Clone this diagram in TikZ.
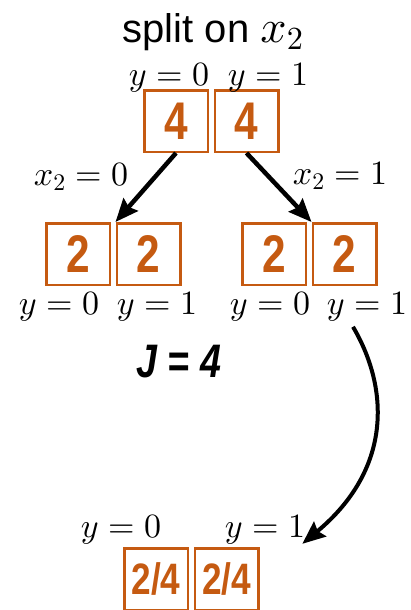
\documentclass[tikz,border=0pt]{standalone}
\usepackage{fontspec}
\setmainfont{Liberation Sans}
\newfontfamily\cntfont[FakeStretch=0.8]{Liberation Sans}
\usetikzlibrary{arrows.meta,positioning}
% scalable math fonts
\DeclareFontShape{OML}{cmm}{m}{it}{<->cmmi10}{}
\DeclareFontShape{OT1}{cmr}{m}{n}{<->cmr10}{}
\DeclareFontShape{OMS}{cmsy}{m}{n}{<->cmsy10}{}
\definecolor{clrBox}{RGB}{197,90,17}
\tikzset{
  countbox/.style={rectangle,draw=clrBox,line width=2.5pt,minimum width=63.5pt,
    minimum height=61.5pt,inner sep=0pt,text=clrBox,
    font=\cntfont\bfseries\fontsize{53}{53}\selectfont},
  fracbox/.style={countbox,font=\cntfont\bfseries\fontsize{44}{44}\selectfont},
  ylabel/.style={anchor=base,inner sep=0pt,font=\fontsize{34}{34}\selectfont},
  arrow/.style={-{Stealth[length=23pt,width=19pt,inset=3pt]},line width=4.5pt},
  carrow/.style={-{Stealth[length=23pt,width=19pt,inset=3pt]},line width=4pt}
}

\begin{document}
\begin{tikzpicture}[x=1pt,y=-1pt]
\useasboundingbox (0,0) rectangle (410,610);

% title
\node[anchor=base,inner sep=0pt,font=\fontsize{40}{40}\selectfont] (title) at (213,43)
  {split on {\fontsize{46}{46}\selectfont$x_2$}};

% root split
\node[countbox] (t0) at (176,121) {4};
\node[countbox,right=4.5pt of t0] (t1) {4};
\node[ylabel] (ty0) at (169,85) {$y=0$};
\node[ylabel] (ty1) at (268,85) {$y=1$};

% children
\node[countbox] (l0) at (78,254) {2};
\node[countbox,right=4.5pt of l0] (l1) {2};
\node[countbox] (r0) at (274,254) {2};
\node[countbox,right=4.5pt of r0] (r1) {2};
\node[ylabel] (ly0) at (59,314) {$y=0$};
\node[ylabel] (ly1) at (157,314) {$y=1$};
\node[ylabel] (ry0) at (270,314) {$y=0$};
\node[ylabel] (ry1) at (367,314) {$y=1$};

\node[ylabel] (ex0) at (81,185) {$x_2=0$};
\node[ylabel] (ex1) at (340,184) {$x_2=1$};

\draw[arrow] (t0.south) -- (l1.north west);
\draw[arrow] (t1.south) -- (r1.north west);

\node[anchor=base,inner sep=0pt,
  font=\cntfont\bfseries\itshape\fontsize{47}{47}\selectfont] (cost) at (179,377) {J = 4};

% resulting distribution
\node[fracbox] (b0) at (156,579) {2/4};
\node[fracbox,right=4.5pt of b0] (b1) {2/4};
\node[ylabel] (by0) at (121,537) {$y=0$};
\node[ylabel] (by1) at (265,537) {$y=1$};

\draw[carrow] ([xshift=-14pt,yshift=-6pt]ry1.south)
  .. controls +(37,63) and +(89,-74) .. ([xshift=-3pt]by1.south east);
\end{tikzpicture}
\end{document}
